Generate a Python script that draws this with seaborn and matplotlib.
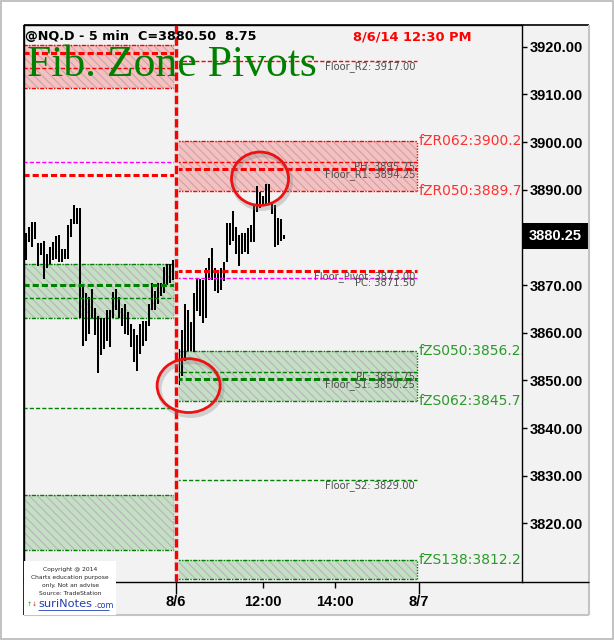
import numpy as np
import pandas as pd
import matplotlib.pyplot as plt
import seaborn as sns
from matplotlib.patches import Rectangle, Ellipse
from matplotlib.lines import Line2D
from matplotlib import transforms

# -------------------------------
# Data (NQ 5 min bars, prices)
# -------------------------------
# previous session (8/5 afternoon), bar highs / lows
day1_high = [3881.0, 3882.25, 3883.25, 3883.25, 3878.75, 3878.75, 3879.25, 3876.5, 3878.0, 3879.0,
             3880.25, 3880.5, 3877.5, 3877.5, 3882.5, 3883.75, 3886.75, 3886.25, 3886.25, 3870.0,
             3868.25, 3867.5, 3869.25, 3865.25, 3863.5, 3863.0, 3863.0, 3864.75, 3864.75, 3868.5,
             3869.25, 3867.5, 3865.25, 3866.0, 3864.25, 3861.75, 3860.75, 3859.5, 3861.75, 3862.5,
             3862.5, 3866.0, 3870.5, 3868.75, 3870.5, 3870.5, 3873.75, 3874.5, 3874.5, 3875.25]
day1_low = [3875.25, 3879.0, 3878.0, 3879.75, 3874.0, 3876.25, 3871.25, 3873.5, 3874.5, 3875.25,
            3875.5, 3874.75, 3874.75, 3875.5, 3875.5, 3880.0, 3882.75, 3882.75, 3863.0, 3857.25,
            3858.25, 3859.75, 3863.0, 3859.5, 3851.5, 3855.25, 3856.5, 3858.25, 3857.0, 3863.0,
            3864.75, 3863.0, 3861.5, 3859.75, 3859.5, 3857.0, 3853.75, 3852.0, 3855.5, 3857.25,
            3858.25, 3861.5, 3864.75, 3864.75, 3866.0, 3867.75, 3868.25, 3870.0, 3870.5, 3871.0]

# current session (8/6 morning)
day2_high = [3850.75, 3856.5, 3860.5, 3866.0, 3864.75, 3862.25, 3868.25, 3871.5, 3871.25, 3871.0,
             3873.5, 3875.75, 3877.75, 3873.5, 3873.25, 3873.5, 3874.75, 3883.0, 3883.0, 3885.5,
             3882.25, 3880.5, 3881.0, 3881.0, 3882.0, 3882.5, 3887.0, 3890.75, 3889.5, 3888.75,
             3891.25, 3891.25, 3887.5, 3886.75, 3884.0, 3883.75, 3880.5]
day2_low = [3844.25, 3849.0, 3851.0, 3854.0, 3856.25, 3856.25, 3856.0, 3864.5, 3863.5, 3862.0,
            3863.0, 3871.0, 3871.0, 3868.75, 3868.25, 3869.0, 3870.75, 3874.75, 3878.5, 3879.25,
            3876.5, 3874.0, 3876.5, 3877.0, 3876.5, 3879.0, 3879.0, 3885.25, 3886.25, 3886.75,
            3887.0, 3887.25, 3885.0, 3878.0, 3878.5, 3879.25, 3879.75]

last_price = 3880.25
title_text = "@NQ.D - 5 min  C=3880.50  8.75"
stamp_text = "8/6/14 12:30 PM"
chart_name = "Fib. Zone Pivots"

y_ticks = [3820, 3830, 3840, 3850, 3860, 3870, 3890, 3900, 3910, 3920]
x_major_pos = [0, 81]
x_major_labels = ["8/6", "8/7"]
x_minor_pos = [29, 53]
x_minor_labels = ["12:00", "14:00"]

# fib zones (low, high, side)
day2_zones = [(3889.75, 3900.25, "R"), (3845.75, 3856.25, "S"), (3808.25, 3812.25, "S")]
day1_zones = [(3911.25, 3920.25, "R"), (3863.0, 3874.5, "S"), (3814.5, 3826.0, "S")]
zone_names = ["fZR062", "fZR050", "fZS050", "fZS062", "fZS138"]
zone_values = [3900.25, 3889.75, 3856.25, 3845.75, 3812.25]
zone_sides = ["R", "R", "S", "S", "S"]

# floor pivots
level_names = ["Floor_R2", "PH", "Floor_R1", "Floor_Pivot", "PC", "PL", "Floor_S1", "Floor_S2"]
level_values = [3917.00, 3895.75, 3894.25, 3873.00, 3871.50, 3851.75, 3850.25, 3829.00]
level_kinds = ["thin_r", "thin_r", "thick_r", "thick_r", "pc", "thin_s", "thick_s", "thin_s"]
day1_level_values = [3918.75, 3915.5, 3895.75, 3893.0, 3870.0, 3867.25, 3844.25]
day1_level_kinds = ["thick_r", "thin_r", "pc", "thick_r", "thick_s", "thin_s", "thin_s"]

# highlighted areas (bar, price, width in bars, height in points)
circles = [(28, 3892.3, 19, 11.2), (4.2, 3848.9, 21, 11.3)]

# -------------------------------
# Style
# -------------------------------
sns.set_theme(style="white")
plt.rcParams['font.family'] = ['DejaVu Sans']
plt.rcParams['lines.solid_capstyle'] = 'butt'
plt.rcParams['hatch.linewidth'] = 0.8

RED = '#ff0000'
GREEN = '#008000'
PINK = '#f5c0c0'
LGREEN = '#c5dfc5'
BG = '#f2f2f2'

W, H = 614, 640
fig = plt.figure(figsize=(W / 100, H / 100), dpi=100)
fig.patch.set_facecolor('white')


def fx(px):
    return px / W


def fy(py):
    return 1 - py / H


# chart window
fig.patches.append(Rectangle((fx(24), fy(615)), fx(589) - fx(24), fy(25) - fy(615),
                             transform=fig.transFigure, fc=BG, ec='none', zorder=-2))
fig.add_artist(Line2D([fx(24), fx(589)], [fy(25), fy(25)], color='black', lw=1.2, zorder=6))
fig.add_artist(Line2D([fx(24), fx(24)], [fy(25), fy(615)], color='black', lw=1.2, zorder=6))
fig.add_artist(Line2D([fx(589), fx(589)], [fy(25), fy(615)], color='#c4c4c4', lw=1.5, zorder=6))
fig.add_artist(Line2D([fx(24), fx(589)], [fy(615), fy(615)], color='#c4c4c4', lw=1.5, zorder=6))
fig.add_artist(Line2D([fx(521.7), fx(589)], [fy(581.5), fy(581.5)], color='black', lw=1.0, zorder=6))
fig.patches.append(Rectangle((0.001, 0.001), 0.997, 0.997, transform=fig.transFigure,
                             fc='none', ec='#b8b8b8', lw=1.2, zorder=7))

ax = fig.add_axes([fx(24), fy(581.5), fx(521.7) - fx(24), fy(25) - fy(581.5)])
ax.set_facecolor(BG)
ax.set_xlim(-50.67, 115.23)
ax.set_ylim(3807.8, 3924.55)

# -------------------------------
# Zones
# -------------------------------
def draw_zone(x0, x1, lo, hi, side):
    fill = PINK if side == "R" else LGREEN
    edge = RED if side == "R" else GREEN
    hatch_col = '#c9a4ab' if side == "R" else '#b9b3bb'
    ax.add_patch(Rectangle((x0, lo), x1 - x0, hi - lo, fc=fill, ec='none', lw=0, zorder=1))
    ax.add_patch(Rectangle((x0, lo), x1 - x0, hi - lo, fill=False, ec=hatch_col, lw=0,
                           hatch='\\\\\\\\', zorder=1.1))
    ax.hlines([lo, hi], x0, x1, colors=edge, lw=1.0, linestyles=[(0, (3, 1, 1, 1))], zorder=1.2)
    ax.vlines(x1, lo, hi, colors=edge, lw=1.0, linestyles=[(0, (1, 1))], zorder=1.2)


for lo, hi, side in day1_zones:
    draw_zone(-51, -0.8, lo, hi, side)
for lo, hi, side in day2_zones:
    draw_zone(0, 80.2, lo, hi, side)

# -------------------------------
# Bars (seaborn, one unit per bar)
# -------------------------------
idx1 = np.arange(-len(day1_high), 0)
idx2 = np.arange(len(day2_high))
bar_idx = np.concatenate([idx1, idx2])
highs = np.array(day1_high + day2_high)
lows = np.array(day1_low + day2_low)
bars = pd.DataFrame({
    'bar': np.repeat(bar_idx, 2),
    'price': np.column_stack([highs, lows]).ravel(),
})
sns.lineplot(data=bars, x='bar', y='price', units='bar', estimator=None, color='black',
             linewidth=1.45, ax=ax, legend=False, zorder=2)
ax.set_xlabel('')
ax.set_ylabel('')

# -------------------------------
# Pivot lines
# -------------------------------
styles = {
    'thick_r': dict(colors=RED, lw=2.2, linestyles=[(0, (2, 1))]),
    'thin_r': dict(colors=RED, lw=1.0, linestyles=[(0, (3, 1.5))]),
    'pc': dict(colors='#ff00ff', lw=1.0, linestyles=[(0, (3, 1.5))]),
    'thick_s': dict(colors=GREEN, lw=2.2, linestyles=[(0, (2, 1))]),
    'thin_s': dict(colors=GREEN, lw=1.0, linestyles=[(0, (3, 1.5))]),
}
for v, k in zip(day1_level_values, day1_level_kinds):
    ax.hlines(v, -51, -0.8, zorder=3, **styles[k])
for name, v, k in zip(level_names, level_values, level_kinds):
    ax.hlines(v, 0, 80.2, zorder=3, **styles[k])
    ax.text(79.7, v, f"{name}: {v:.2f}", ha='right', va='top', fontsize=7.2,
            color='#505050', zorder=4)

for name, v, side in zip(zone_names, zone_values, zone_sides):
    ax.text(81, v, f"{name}:{v:.2f}", ha='left', va='center', fontsize=10,
            color='#ff3030' if side == "R" else '#2a9a2a', zorder=4, clip_on=True)

# session separator
ax.axvline(0, color='#e6e6e6', lw=3.4, zorder=3.4)
ax.axvline(0, color=RED, lw=2.4, ls=(0, (2.5, 1)), zorder=3.5)

# circles with shadow
shadow_tr = transforms.offset_copy(ax.transData, fig=fig, x=2, y=-3, units='dots')
for cx, cy, w, h in circles:
    ax.add_patch(Ellipse((cx, cy), w, h, fill=False, ec='#808080', lw=3.5, alpha=0.3,
                         transform=shadow_tr, zorder=4.5))
    ax.add_patch(Ellipse((cx, cy), w, h, fill=False, ec='#ee1111', lw=2.0, zorder=5))

# header texts
ax.text(0.002, 0.979, title_text, transform=ax.transAxes, ha='left', va='center',
        fontsize=9.2, fontweight='bold', color='black', zorder=6)
ax.text(0.661, 0.979, stamp_text, transform=ax.transAxes, ha='left', va='center',
        fontsize=9.4, fontweight='bold', color=RED, zorder=6)
ax.text(0.006, 0.908, chart_name, transform=ax.transAxes, ha='left', va='baseline',
        fontsize=31.5, family='Liberation Serif', color=GREEN, zorder=6)

# -------------------------------
# Axes, ticks
# -------------------------------
for s in ax.spines.values():
    s.set_color('black')
    s.set_linewidth(1.0)

ax.yaxis.tick_right()
ax.set_yticks(y_ticks, labels=[f"{v:.2f}" for v in y_ticks], fontsize=10.5,
              fontweight='bold', family='Liberation Sans')
ax.tick_params(axis='y', which='major', right=True, labelright=True, left=False,
               labelleft=False, direction='out', length=3.6, width=1, pad=2.2, colors='black')

ax.set_xticks(x_major_pos, labels=x_major_labels, fontsize=10.5, fontweight='bold',
              family='Liberation Sans')
ax.set_xticks(x_minor_pos, labels=x_minor_labels, minor=True, fontsize=10.5,
              fontweight='bold', family='Liberation Sans')
ax.tick_params(axis='x', which='both', bottom=True, labelbottom=True, direction='out',
               width=1, colors='black')
ax.tick_params(axis='x', which='major', length=8.6, pad=0.8)
ax.tick_params(axis='x', which='minor', length=4.3, pad=5.1)
ax.grid(False)

# last price marker
blend = transforms.blended_transform_factory(ax.transAxes, ax.transData)
ax.add_patch(Rectangle((1.0, last_price - 2.7), 0.1352, 5.4, transform=blend,
                       fc='black', ec='none', clip_on=False, zorder=6))
ax.text(1.0676, last_price, f"{last_price:.2f}", transform=blend, ha='center',
        va='center', fontsize=10.5, fontweight='bold', family='Liberation Sans',
        color='white', clip_on=False, zorder=7)

# -------------------------------
# Logo box, bottom left
# -------------------------------
fig.patches.append(Rectangle((fx(24.5), fy(615)), fx(116) - fx(24.5), fy(561) - fy(615),
                             transform=fig.transFigure, fc='white', ec='none', zorder=8))
logo_lines = ["Copyright @ 2014", "Charts education purpose", "only. Not an advise",
              "Source: TradeStation"]
for k, line in enumerate(logo_lines):
    fig.text(fx(70), fy(570 + 7.7 * k), line, ha='center', va='center', fontsize=4.3,
             color='#222222', zorder=9)
fig.text(fx(26.5), fy(604), "\u2191", ha='left', va='center', fontsize=4.5, color='#1a9a1a', zorder=9)
fig.text(fx(32), fy(604), "\u2193", ha='left', va='center', fontsize=4.5, color='#e02020', zorder=9)
fig.text(fx(38.5), fy(604), "suriNotes", ha='left', va='center', fontsize=8.2,
         color='#2040b0', zorder=9)
fig.text(fx(93.5), fy(604), ".", ha='left', va='center', fontsize=8.2, color='#e02020', zorder=9)
fig.text(fx(97), fy(605), "com", ha='left', va='center', fontsize=5.8, color='#2040b0', zorder=9)
fig.add_artist(Line2D([fx(38), fx(109)], [fy(610), fy(610)], color='#2040b0', lw=0.6, zorder=9))

fig.savefig("out.png", dpi=100)
